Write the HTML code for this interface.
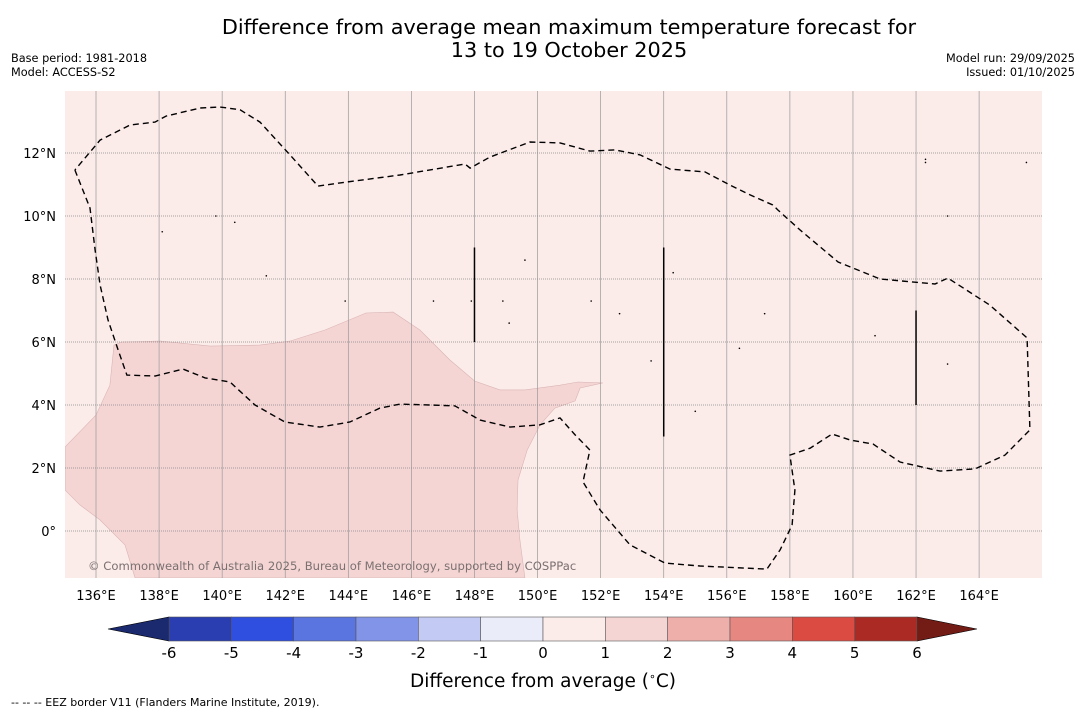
<!DOCTYPE html>
<html><head><meta charset="utf-8"><style>
body{margin:0;background:#fff;}
svg text{font-family:"DejaVu Sans","Liberation Sans",sans-serif;}
</style></head><body>
<svg id="c" width="1085" height="713" viewBox="0 0 1085 713" xmlns="http://www.w3.org/2000/svg">
<text x="569" y="34" font-size="20.8" text-anchor="middle">Difference from average mean maximum temperature forecast for</text>
<text x="569" y="57" font-size="20.8" text-anchor="middle">13 to 19 October 2025</text>
<text x="11" y="62" font-size="11.3">Base period: 1981-2018</text>
<text x="11" y="76" font-size="11.3">Model: ACCESS-S2</text>
<text x="1075" y="62" font-size="11.3" text-anchor="end">Model run: 29/09/2025</text>
<text x="1075" y="76" font-size="11.3" text-anchor="end">Issued: 01/10/2025</text>
<g id="map"></g>
<g id="cbar"></g>
<text x="543" y="687" font-size="18.5" text-anchor="middle">Difference from average (<tspan font-size="11" dy="-7">∘</tspan><tspan dy="7">C)</tspan></text>
<text x="11" y="706" font-size="11">--  --  -- EEZ border V11 (Flanders Marine Institute, 2019).</text>
</svg>
<script>
const lonTicks=[136,138,140,142,144,146,148,150,152,154,156,158,160,162,164];
const latTicks=[0,2,4,6,8,10,12];
const levels=[-6,-5,-4,-3,-2,-1,0,1,2,3,4,5,6];
const levelColors=["#2a3eb1","#2f4fe0","#5a74e0","#8294e8","#c3caf3","#eaecfa","#fbebe9","#f5d5d4","#eeaeaa","#e68781","#dc4b42","#ab2b24"];
const anomalyLon=[135.02,136,136.44,136.57,136.82,138.03,139.62,141.2,142.15,143.26,144.56,145.42,146.27,147.22,148.01,148.81,149.6,150.71,151.28,152.07,151.35,151.19,150.55,150.08,149.67,149.38,149.35,149.44,149.6,137.24,136.92,136.13,135.49,135.02];
const anomalyLat=[2.67,3.68,4.63,5.9,6.0,6.03,5.87,5.9,6.03,6.38,6.92,6.95,6.38,5.43,4.76,4.48,4.48,4.63,4.73,4.70,4.54,4.13,3.9,3.37,2.57,1.62,0.67,-0.29,-1.49,-1.49,-0.44,0.35,0.83,1.3];
const eezLon=[135.33,135.81,135.97,136.13,136.38,136.70,136.98,137.87,138.76,139.46,140.25,141.04,141.99,143.10,144.05,145.0,145.64,146.59,147.38,148.18,149.13,150.08,150.71,151.19,151.66,151.44,151.98,152.93,154.04,155.15,157.27,157.69,158.07,158.16,158.0,158.64,159.34,159.91,160.64,161.49,162.76,163.87,164.82,165.61,165.52,164.34,163.01,162.6,160.86,159.53,158.32,157.62,157.46,156.74,156.1,155.31,154.2,153.25,152.46,151.66,150.71,149.76,148.49,147.86,147.7,145.64,143.74,143.04,142.15,141.2,140.57,139.93,139.3,138.22,137.87,137.08,136.13,135.33];
const eezLat=[11.46,10.25,8.92,7.81,6.70,5.75,4.95,4.92,5.14,4.86,4.73,4.0,3.46,3.30,3.46,3.90,4.03,4.0,3.97,3.52,3.30,3.37,3.59,3.05,2.57,1.56,0.67,-0.44,-1.02,-1.11,-1.21,-0.60,0.19,1.30,2.41,2.63,3.08,2.89,2.76,2.19,1.90,1.97,2.41,3.21,6.13,7.17,8.03,7.84,8.0,8.54,9.56,10.19,10.35,10.67,10.98,11.40,11.49,11.94,12.10,12.06,12.32,12.35,11.87,11.52,11.65,11.30,11.05,10.95,11.94,12.98,13.37,13.46,13.43,13.17,12.98,12.89,12.41,11.46];
const segLon=[148,154,162];
const segLat0=[9,9,7];
const segLat1=[6,3,4];
const islandLon=[138.1,139.8,140.4,141.4,143.9,146.7,147.9,149.6,148.9,149.1,151.7,152.6,153.6,154.3,155.0,156.4,157.2,160.7,162.3,163.0,163.0,162.3,165.5];
const islandLat=[9.5,10.0,9.8,8.1,7.3,7.3,7.3,8.6,7.3,6.6,7.3,6.9,5.4,8.2,3.8,5.8,6.9,6.2,11.8,10.0,5.3,11.7,11.7];

const NS="http://www.w3.org/2000/svg";
const X0=65,X1=1042,Y0=91,Y1=578;
const lonX=l=>96+(l-136)*31.54;
const latY=l=>531-l*31.5;
function mk(tag,attrs,parent){const e=document.createElementNS(NS,tag);for(const k in attrs)e.setAttribute(k,attrs[k]);parent.appendChild(e);return e;}
const map=document.getElementById('map');
const bg=mk('rect',{x:X0,y:Y0,width:X1-X0,height:Y1-Y0,fill:levelColors[6]},map);


const clip=mk('clipPath',{id:'mc'},map);mk('rect',{x:X0,y:Y0,width:X1-X0,height:Y1-Y0},clip);
const g=mk('g',{'clip-path':'url(#mc)'},map);
let d=anomalyLon.map((l,i)=>(i?'L':'M')+lonX(l).toFixed(1)+','+latY(anomalyLat[i]).toFixed(1)).join('')+'Z';
const an=mk('path',{d:d,fill:levelColors[7],stroke:'#d9b5b5','stroke-width':0.6},g);


lonTicks.forEach(l=>{const ln=mk('line',{x1:lonX(l),x2:lonX(l),y1:Y0,y2:Y1,stroke:'#999','stroke-width':0.7},g);


const t=mk('text',{x:lonX(l),y:600,'font-size':13,'text-anchor':'middle'},map);t.textContent=l+'°E';

});
latTicks.forEach(l=>{const ln=mk('line',{x1:X0,x2:X1,y1:latY(l),y2:latY(l),stroke:'#888','stroke-width':0.8,'stroke-dasharray':'1,1'},g);


const t=mk('text',{x:56,y:latY(l)+5,'font-size':13,'text-anchor':'end'},map);t.textContent=l===0?'0°':l+'°N';

});
d=eezLon.map((l,i)=>(i?'L':'M')+lonX(l).toFixed(1)+','+latY(eezLat[i]).toFixed(1)).join('');
const ez=mk('path',{d:d,fill:'none',stroke:'#000','stroke-width':1.4,'stroke-dasharray':'6,4'},g);


segLon.forEach((l,i)=>{const s=mk('line',{x1:lonX(l),x2:lonX(l),y1:latY(segLat0[i]),y2:latY(segLat1[i]),stroke:'#000','stroke-width':1.5},g);

});
islandLon.forEach((l,i)=>{const c=mk('circle',{cx:lonX(l),cy:latY(islandLat[i]),r:0.8,fill:'#000'},g);

});
const cp=mk('text',{x:88,y:570,'font-size':11.6,fill:'#7a7070'},map);cp.textContent='© Commonwealth of Australia 2025, Bureau of Meteorology, supported by COSPPac';


const cb=document.getElementById('cbar');
const cx0=169,cx1=917,cy0=617,cy1=641;
const vx=v=>cx0+(v-levels[0])/(levels[levels.length-1]-levels[0])*(cx1-cx0);
const e1=mk('polygon',{points:`108,629 ${cx0},${cy0} ${cx0},${cy1}`,fill:'#1b2a6f',stroke:'#000','stroke-width':0.6},cb);


const e2=mk('polygon',{points:`977,629 ${cx1},${cy0} ${cx1},${cy1}`,fill:'#731c16',stroke:'#000','stroke-width':0.6},cb);


levelColors.forEach((c,i)=>{const r=mk('rect',{x:vx(levels[i]),y:cy0,width:vx(levels[i+1])-vx(levels[i]),height:cy1-cy0,fill:c,stroke:'#555','stroke-width':0.6},cb);

});
levels.forEach(v=>{const t=mk('text',{x:vx(v),y:658,'font-size':15,'text-anchor':'middle'},cb);t.textContent=v;

});
</script>
</body></html>
